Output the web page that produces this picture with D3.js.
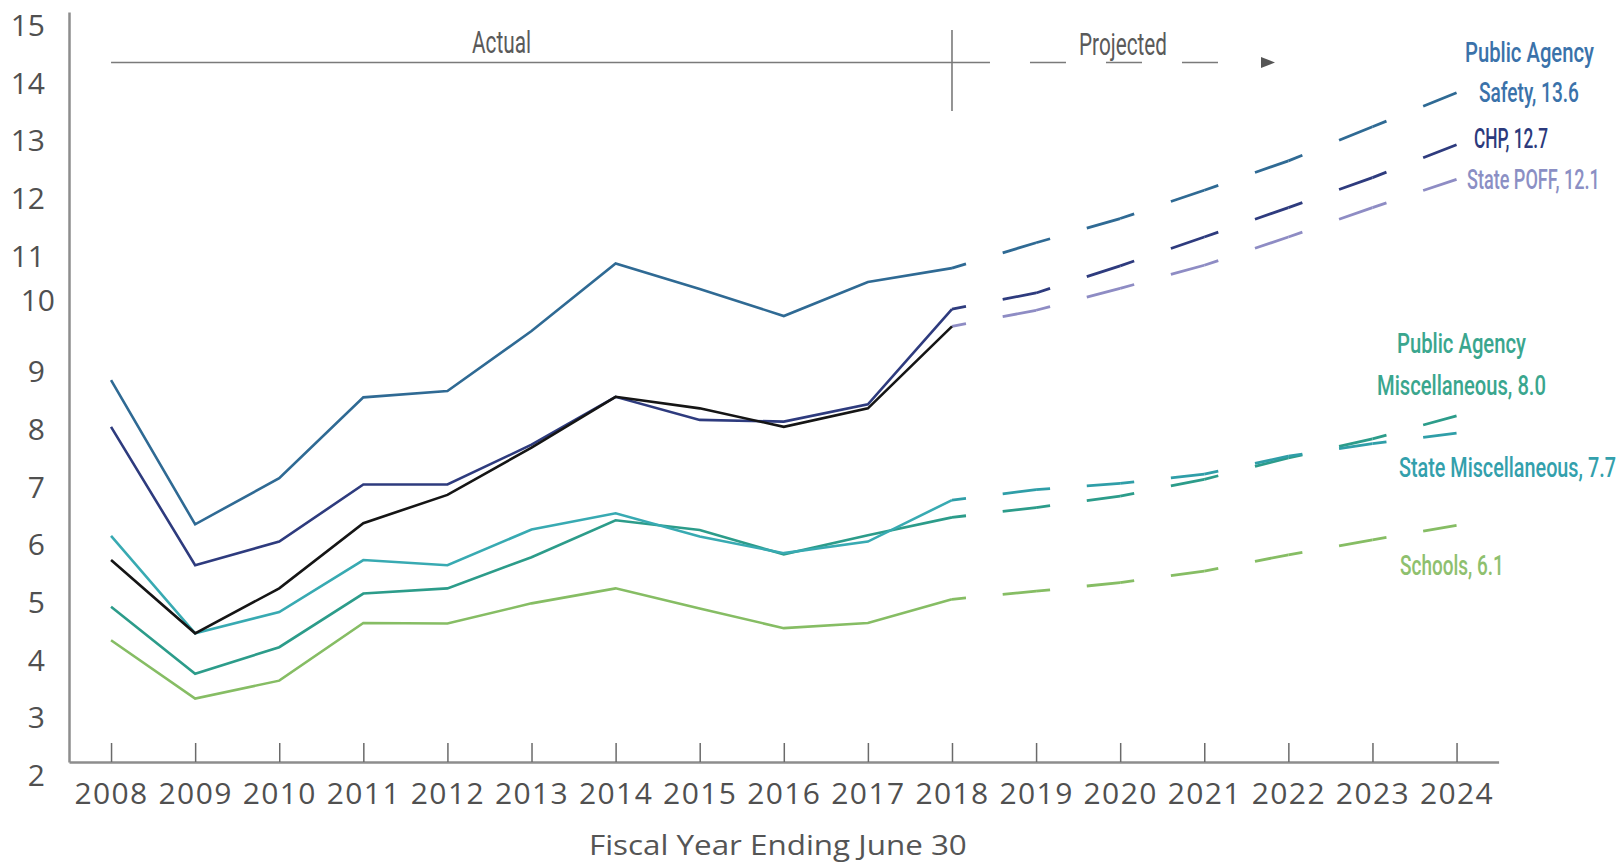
<!DOCTYPE html>
<html>
<head>
<meta charset="utf-8">
<script src="https://cdn.jsdelivr.net/npm/d3@7"></script>
<style>
  html, body { margin: 0; padding: 0; background: #ffffff; }
  svg { display: block; }
</style>
</head>
<body>
<svg id="chart" width="1623" height="863"></svg>
<script>
// ---- Data -------------------------------------------------------------
const actualYears    = [2008, 2009, 2010, 2011, 2012, 2013, 2014, 2015, 2016, 2017, 2018];
const projectedYears = [2018, 2019, 2020, 2021, 2022, 2023, 2024];
const xTickYears     = [2008, 2009, 2010, 2011, 2012, 2013, 2014, 2015, 2016, 2017, 2018, 2019, 2020, 2021, 2022, 2023, 2024];
const yTickValues    = [2, 3, 4, 5, 6, 7, 8, 9, 10, 11, 12, 13, 14, 15];

const safetyActual    = [8.62, 6.12, 6.92, 8.32, 8.43, 9.47, 10.64, 10.20, 9.73, 10.32, 10.56];
const safetyProjected = [10.56, 11.00, 11.42, 11.91, 12.42, 13.01, 13.6];

const chpActual    = [7.81, 5.41, 5.82, 6.81, 6.81, 7.50, 8.33, 7.93, 7.90, 8.20, 9.85];
const chpProjected = [9.85, 10.13, 10.60, 11.10, 11.61, 12.13, 12.7];

const poffActual    = [5.50, 4.23, 5.01, 6.14, 6.63, 7.45, 8.33, 8.13, 7.81, 8.13, 9.55];
const poffProjected = [9.55, 9.83, 10.21, 10.61, 11.10, 11.61, 12.1];

const paMiscActual    = [4.69, 3.53, 3.99, 4.92, 5.01, 5.55, 6.19, 6.02, 5.60, 5.93, 6.24];
const paMiscProjected = [6.24, 6.41, 6.61, 6.90, 7.27, 7.60, 8.0];

const stateMiscActual    = [5.92, 4.23, 4.60, 5.50, 5.41, 6.03, 6.31, 5.91, 5.62, 5.82, 6.54];
const stateMiscProjected = [6.54, 6.72, 6.83, 6.99, 7.30, 7.52, 7.7];

const schoolsActual    = [4.11, 3.10, 3.41, 4.41, 4.40, 4.75, 5.01, 4.66, 4.32, 4.41, 4.82];
const schoolsProjected = [4.82, 4.96, 5.11, 5.31, 5.59, 5.85, 6.1];

// ---- Series styling (drawn bottom to top) ------------------------------
const series = [
  { key: "schools",   actual: schoolsActual,   projected: schoolsProjected,   line: "#86bd64", dash: "#86bd64" },
  { key: "paMisc",    actual: paMiscActual,    projected: paMiscProjected,    line: "#2c9c8a", dash: "#2c9c8a" },
  { key: "stateMisc", actual: stateMiscActual, projected: stateMiscProjected, line: "#38aab2", dash: "#2f9ea8" },
  { key: "safety",    actual: safetyActual,    projected: safetyProjected,    line: "#2f6a94", dash: "#2f6a94" },
  { key: "chp",       actual: chpActual,       projected: chpProjected,       line: "#2e3b7e", dash: "#2e3b7e" },
  { key: "poff",      actual: poffActual,      projected: poffProjected,      line: "#151515", dash: "#8e8cc4" }
];

const svg = d3.select("#chart");

// Narrow lettering: draw the text, then squeeze it horizontally to the wanted width.
const condensed = "'Roboto', 'Liberation Sans', sans-serif";
function narrowText(g, str, x, y, width, anchor) {
  const t = g.append("text").text(str);
  const natural = t.node().getComputedTextLength();
  const sx = width / natural;
  const left = anchor === "middle" ? x - width / 2 : x;
  t.attr("transform", `translate(${left},${y}) scale(${sx},1)`);
  return t;
}

// ---- Scales ------------------------------------------------------------
const x = d3.scaleLinear().domain([2007.5, 2024.5]).range([69, 1498.6]);
const y = d3.scaleLinear().domain([2, 15]).range([762, 12]);

// ---- Axes --------------------------------------------------------------
const xAxis = d3.axisBottom(x)
  .tickValues(xTickYears)
  .tickFormat(d3.format("d"))
  .tickSizeInner(-19)
  .tickSizeOuter(0)
  .tickPadding(21);

const gx = svg.append("g")
  .attr("transform", `translate(0,${y(2)})`)
  .call(xAxis);
gx.select(".domain").attr("stroke", "#8d8d8d").attr("stroke-width", 2.5);
gx.selectAll(".tick line").attr("stroke", "#6a6a6a").attr("stroke-width", 1.5);
gx.selectAll(".tick text")
  .attr("fill", "#505050")
  .style("font-family", "'Open Sans', 'Noto Sans', sans-serif")
  .style("font-size", "30px")
  .style("letter-spacing", "1.4px");

const yAxis = d3.axisLeft(y)
  .tickValues(yTickValues)
  .tickFormat(d3.format("d"))
  .tickSize(0)
  .tickPadding(24);

const gy = svg.append("g")
  .attr("transform", `translate(${x(2007.5)},0)`)
  .call(yAxis);
gy.select(".domain").attr("stroke", "#8d8d8d").attr("stroke-width", 2.5);
gy.selectAll(".tick text")
  .attr("fill", "#505050")
  .style("font-family", "'Open Sans', 'Noto Sans', sans-serif")
  .style("font-size", "30px")
  .attr("transform", d => d === 10 ? "translate(10,0)" : "translate(0,14)");

// ---- Axis title ----------------------------------------------------------
const titleG = svg.append("g")
  .attr("fill", "#555")
  .style("font-family", "'Open Sans', 'Noto Sans', sans-serif")
  .style("font-size", "28px");
narrowText(titleG, "Fiscal Year Ending June 30", 778, 855, 378, "middle");

// ---- Actual / Projected header -----------------------------------------------
const header = svg.append("g");
const hy = 62.5;
const split = x(2018);
header.append("line")
  .attr("x1", x(2008)).attr("x2", split + 38)
  .attr("y1", hy).attr("y2", hy)
  .attr("stroke", "#7a7a7a").attr("stroke-width", 1.6);
header.append("line")
  .attr("x1", split).attr("x2", split)
  .attr("y1", 30).attr("y2", 111)
  .attr("stroke", "#7a7a7a").attr("stroke-width", 1.6);
header.append("line")
  .attr("x1", split + 38).attr("x2", split + 266)
  .attr("y1", hy).attr("y2", hy)
  .attr("stroke", "#7a7a7a").attr("stroke-width", 1.6)
  .attr("stroke-dasharray", "36 40")
  .attr("stroke-dashoffset", 36);
header.append("path")
  .attr("d", `M${split + 309},${hy - 5.5}L${split + 323},${hy}L${split + 309},${hy + 5.5}Z`)
  .attr("fill", "#555");

const headerText = header.append("g")
  .attr("fill", "#5a5a5a")
  .style("font-family", condensed)
  .style("font-size", "31px");
narrowText(headerText, "Actual", 472, 53, 59);
narrowText(headerText, "Projected", 1079, 55, 88);

// ---- Lines -------------------------------------------------------------------
const line = d3.line().x(d => x(d[0])).y(d => y(d[1]));
const yearSpacing = x(2009) - x(2008);

const linesG = svg.append("g").attr("fill", "none");
series.forEach(s => {
  // projected: one dashed piece per year so dashes sit at the same place each year
  const pts = projectedYears.map((yr, i) => [yr, s.projected[i]]);
  d3.pairs(pts).forEach(([a, b]) => {
    linesG.append("path")
      .attr("d", line([a, b]))
      .attr("pathLength", yearSpacing)
      .attr("stroke", s.dash)
      .attr("stroke-width", 2.8)
      .attr("stroke-dasharray", `14 36.7 ${yearSpacing - 50.7}`);
  });
  // actual
  linesG.append("path")
    .attr("d", line(actualYears.map((yr, i) => [yr, s.actual[i]])))
    .attr("stroke", s.line)
    .attr("stroke-width", 2.6)
    .attr("stroke-linejoin", "miter");
});

// ---- End labels -----------------------------------------------------------
const fmt = d3.format(".1f");
const last = arr => arr[arr.length - 1];
const endLabels = [
  { color: "#3a72aa", lines: [
      { text: "Public Agency", x: 1465, y: 62, w: 129 },
      { text: `Safety, ${fmt(last(safetyProjected))}`, x: 1479, y: 102, w: 100 } ] },
  { color: "#2c3a7c", lines: [
      { text: `CHP, ${fmt(last(chpProjected))}`, x: 1474, y: 148, w: 74 } ] },
  { color: "#8b8fc4", lines: [
      { text: `State POFF, ${fmt(last(poffProjected))}`, x: 1467, y: 189, w: 133 } ] },
  { color: "#3aa68e", lines: [
      { text: "Public Agency", x: 1397, y: 353, w: 129 },
      { text: `Miscellaneous, ${fmt(last(paMiscProjected))}`, x: 1377, y: 395, w: 169 } ] },
  { color: "#33a0ac", lines: [
      { text: `State Miscellaneous, ${fmt(last(stateMiscProjected))}`, x: 1399, y: 477, w: 217 } ] },
  { color: "#8ec06e", lines: [
      { text: `Schools, ${fmt(last(schoolsProjected))}`, x: 1400, y: 575, w: 104 } ] }
];

const labelsG = svg.append("g")
  .style("font-family", condensed)
  .style("font-size", "28px")
  .style("font-weight", 500);
endLabels.forEach(l => {
  const g = labelsG.append("g").attr("fill", l.color);
  l.lines.forEach(t => narrowText(g, t.text, t.x, t.y, t.w));
});
</script>
</body>
</html>
